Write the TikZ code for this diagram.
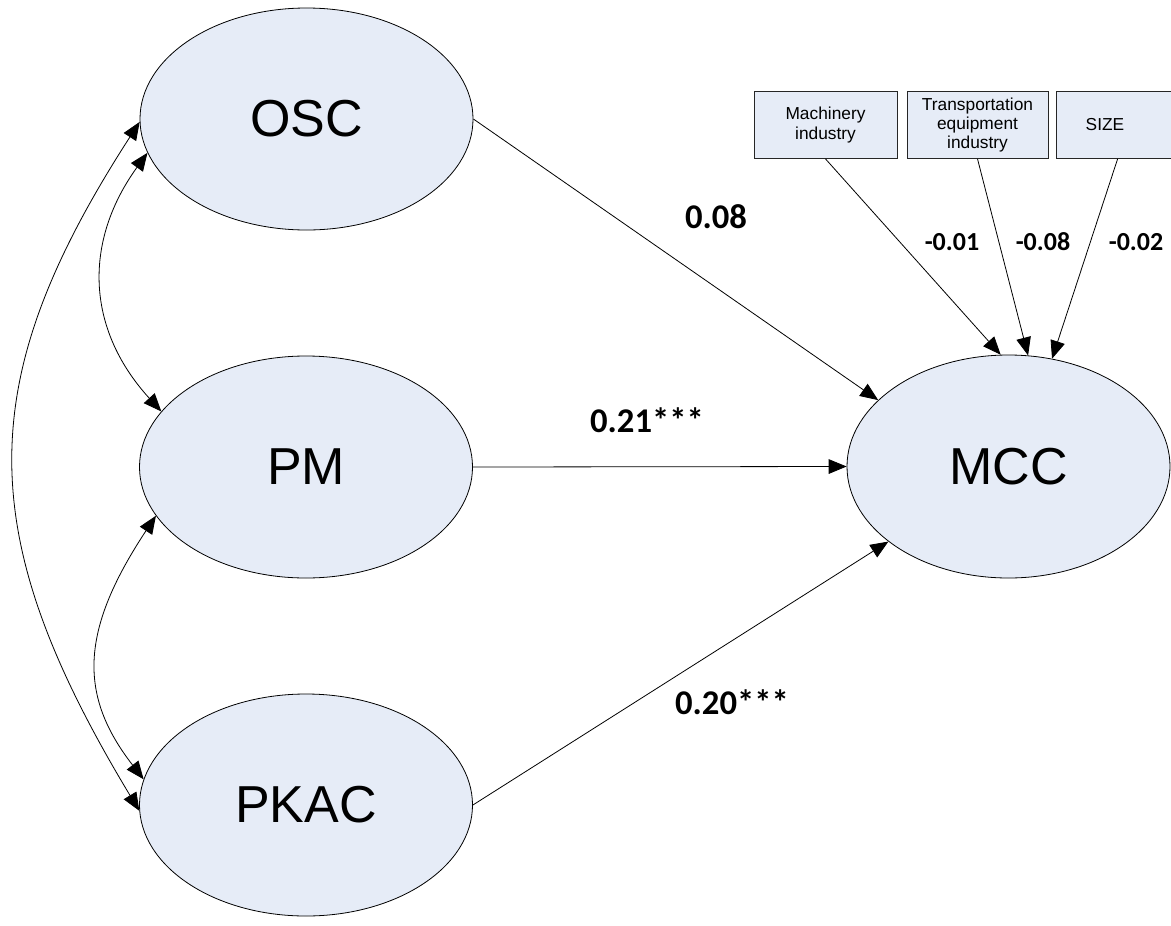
\documentclass[tikz,border=0pt]{standalone}
\usepackage{fontspec}
\setmainfont{Liberation Sans}
\newfontfamily\coeffont{Carlito}
\usetikzlibrary{arrows.meta,shapes.geometric}
\definecolor{latentfill}{RGB}{230,236,247}
\begin{document}
\begin{tikzpicture}[x=0.75pt,y=-0.75pt,
  latent/.style={ellipse,draw=black,line width=0.6pt,fill=latentfill,inner sep=0pt,
    minimum width=249.75pt,minimum height=166.5pt,font=\fontsize{39}{44}\selectfont},
  covbox/.style={rectangle,draw=black!85,line width=0.6pt,fill=latentfill,inner sep=0pt,
    minimum height=50.25pt,align=center,font=\fontsize{13}{14.6}\selectfont},
  path/.style={line width=0.6pt,-{Triangle[length=13.5pt,width=11pt]}},
  covpath/.style={line width=0.6pt,{Triangle[length=13.5pt,width=11pt]}-{Triangle[length=13.5pt,width=11pt]}},
  coefbig/.style={inner sep=0pt,font=\coeffont\bfseries\fontsize{26}{30}\selectfont},
  coefsmall/.style={inner sep=0pt,font=\coeffont\bfseries\fontsize{19.5}{22}\selectfont}]
\useasboundingbox (0,0) rectangle (1171,925);
\clip (0,0) rectangle (1171,925);

% latent constructs
\node[latent] (osc)  at (306.5,119) {OSC};
\node[latent] (pm)   at (306,467)   {PM};
\node[latent] (pkac) at (306,805)   {PKAC};
\node[latent,minimum width=242.25pt,minimum height=167.25pt] (mcc) at (1008.5,466.5) {MCC};

% control variables
\node[covbox,minimum width=107.25pt] (mach) at (825.5,125) {Machinery\\industry};
\node[covbox,minimum width=105.75pt] (trans) at (977.5,125) {Transportation\\equipment\\industry};
\node[covbox,minimum width=108pt] (size) at (1128,125) {SIZE\hspace*{34.5pt}};

% structural paths
\draw[path] (osc.east) -- (mcc.153.7);
\draw[path] (pm.east) -- (mcc.west);
\draw[path] (pkac.east) -- (mcc.212);
\draw[path] (mach.south) -- (mcc.94.4);
\draw[path] (trans.south) -- (mcc.80);
\draw[path] ([xshift=46.5pt]size.south west) -- (mcc.68.7);

% correlations among the predictors
\draw[covpath] (osc.192.7) .. controls (84.5,240) and (84.5,327) .. (pm.159);
\draw[covpath] (pm.198.4) .. controls (79,632) and (79,696) .. (pkac.171);
\draw[covpath] (osc.181.4) .. controls (-27.7,381) and (-27.7,534) .. (pkac.182.4);

% path coefficients
\node[coefbig] (c1) at (716,217) {0.08};
\node[coefbig] (c2) at (647,420) {0.21***};
\node[coefbig] (c3) at (732,702) {0.20***};
\node[coefsmall] (c4) at (952,242) {-0.01};
\node[coefsmall] (c5) at (1043,242) {-0.08};
\node[coefsmall] (c6) at (1136,242) {-0.02};
\end{tikzpicture}
\end{document}
